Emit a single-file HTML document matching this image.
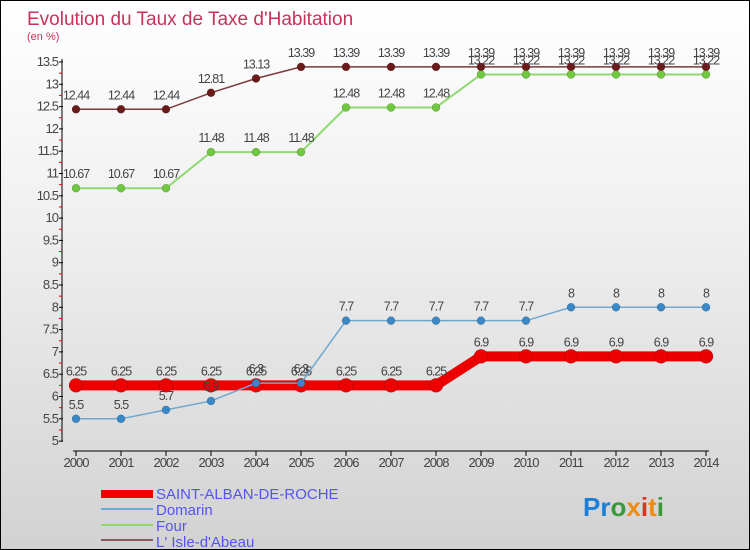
<!DOCTYPE html>
<html><head><meta charset="utf-8"><style>
body{margin:0}
#c{width:748px;height:548px;border:1px solid #000;background:linear-gradient(#fff,#f0f0f0 40%,#d2d2d2);position:relative;overflow:hidden;font-family:"Liberation Sans",sans-serif}
</style></head><body>
<div id="c">
<svg id="s" width="748" height="548" xmlns="http://www.w3.org/2000/svg">
<text x="26" y="24" font-size="19" fill="#c8325a">Evolution du Taux de Taxe d'Habitation</text>
<text x="26" y="39" font-size="11" fill="#c8325a">(en %)</text>
<g id="ax"></g><g id="ser"></g>
<g>
<rect x="100" y="489" width="52" height="8" fill="#e00"/>
<text x="155" y="498" font-size="15" fill="#5555ee">SAINT-ALBAN-DE-ROCHE</text>
<line x1="100" y1="508" x2="152" y2="508" stroke="#6fa8d0" stroke-width="2"/>
<text x="155" y="514" font-size="15" fill="#5555ee">Domarin</text>
<line x1="100" y1="524" x2="152" y2="524" stroke="#90d870" stroke-width="2"/>
<text x="155" y="530" font-size="15" fill="#5555ee">Four</text>
<line x1="100" y1="539" x2="152" y2="539" stroke="#8b5a5a" stroke-width="2"/>
<text x="155" y="546" font-size="15" fill="#5555ee">L' Isle-d'Abeau</text>
</g>
<text x="582" y="515" font-size="26" font-weight="bold"><tspan fill="#1a7fd8">Pr</tspan><tspan fill="#3a9a3a">o</tspan><tspan fill="#f08a10">x</tspan><tspan fill="#e03020">i</tspan><tspan fill="#f08a10">t</tspan><tspan fill="#3a9a3a">i</tspan></text>
</svg></div>
<script>
const years=[2000,2001,2002,2003,2004,2005,2006,2007,2008,2009,2010,2011,2012,2013,2014];
const saint=[6.25,6.25,6.25,6.25,6.25,6.25,6.25,6.25,6.25,6.9,6.9,6.9,6.9,6.9,6.9];
const domarin=[5.5,5.5,5.7,5.9,6.3,6.3,7.7,7.7,7.7,7.7,7.7,8,8,8,8];
const four=[10.67,10.67,10.67,11.48,11.48,11.48,12.48,12.48,12.48,13.22,13.22,13.22,13.22,13.22,13.22];
const isle=[12.44,12.44,12.44,12.81,13.13,13.39,13.39,13.39,13.39,13.39,13.39,13.39,13.39,13.39,13.39];
const yTicks=[5,5.5,6,6.5,7,7.5,8,8.5,9,9.5,10,10.5,11,11.5,12,12.5,13,13.5];
const NS="http://www.w3.org/2000/svg";
const X=i=>75+i*45, Y=v=>61+(13.5-v)*44.6;
function mk(p,t,a){const e=document.createElementNS(NS,t);for(const k in a)e.setAttribute(k,a[k]);p.appendChild(e);return e;}
const ax=document.getElementById('ax'),ser=document.getElementById('ser');
let e=mk(ax,'line',{x1:61,y1:58,x2:61,y2:441,stroke:'#000'});


e=mk(ax,'line',{x1:72,y1:450,x2:708,y2:450,stroke:'#000'});


yTicks.forEach(v=>{const y=Y(v);mk(ax,'line',{x1:58,y1:y,x2:62,y2:y,stroke:'#000'});
 if(v<13.5)mk(ax,'line',{x1:58,y1:y-11.15,x2:61,y2:y-11.15,stroke:'#e00'});
 const t=mk(ax,'text',{x:57,y:y+4,'font-size':13,'text-anchor':'end',fill:'#444','letter-spacing':'-1'});t.textContent=v;
 
 });
years.forEach((yr,i)=>{mk(ax,'line',{x1:X(i),y1:450,x2:X(i),y2:455,stroke:'#000'});
 const t=mk(ax,'text',{x:X(i),y:466,'font-size':13,'text-anchor':'middle',fill:'#444','letter-spacing':'-1'});t.textContent=yr;
 
 });
function series(d,col,dot,w,r,name){const g=mk(ser,'g',{});
 
 
 mk(g,'polyline',{points:d.map((v,i)=>X(i)+','+Y(v)).join(' '),fill:'none',stroke:col,'stroke-width':w});
 d.forEach((v,i)=>{const c=mk(g,'circle',{cx:X(i),cy:Y(v),r:r,fill:dot,stroke:'rgba(0,0,0,0.3)','stroke-width':0.5});
  
  
  const t=mk(g,'text',{x:X(i),y:Y(v)-10,'font-size':12.5,'text-anchor':'middle',fill:'#444','letter-spacing':'-1'});t.textContent=v;
  
  });}
series(isle,'#7a3a3a','#6b1a1a',1.5,4,'series-isle-abeau');
series(four,'#90d870','#70c840',2,4,'series-four');
series(saint,'#e00','#e00',10,7,'series-saint-alban');
series(domarin,'#6fa8d0','#3a88c8',1.5,4,'series-domarin');
</script></body></html>
